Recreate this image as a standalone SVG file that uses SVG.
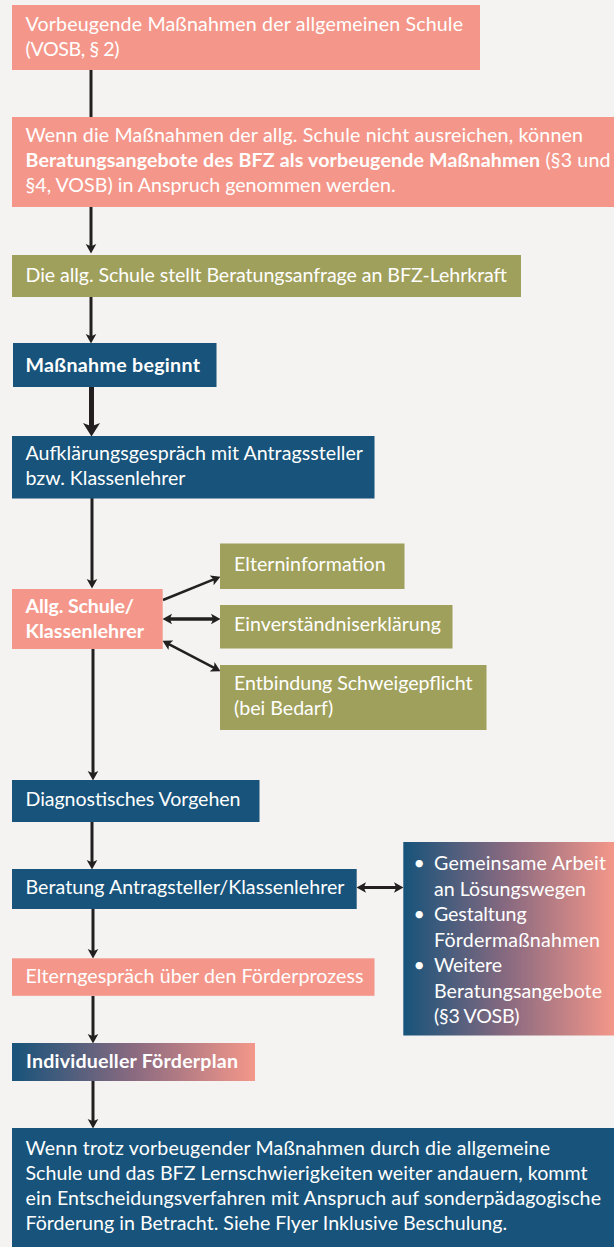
<svg xmlns="http://www.w3.org/2000/svg" width="614" height="1247" viewBox="0 0 614 1247">
<style>
.t{font-family:Lato,"Noto Sans","Liberation Sans",sans-serif;font-size:19.6px;fill:#ffffff}
.b{font-weight:bold}
.salmon{fill:#f4978a}
.olive{fill:#9fa05b}
.blue{fill:#17537a}
.grad{fill:url(#g)}
.ln{fill:none;stroke:#231f20;stroke-width:3}
</style>
<defs>
<linearGradient id="g" x1="0" y1="0" x2="1" y2="0">
<stop offset="0" stop-color="#17537a"/>
<stop offset="0.5" stop-color="#8a6a80"/>
<stop offset="1" stop-color="#f4978a"/>
</linearGradient>
<marker id="arr" viewBox="0 -6 10 12" markerWidth="10" markerHeight="12" markerUnits="userSpaceOnUse" refX="3" refY="0" orient="auto-start-reverse">
<path d="M0,-5.3 L9.5,0 L0,5.3 L2.2,0 z" fill="#231f20"/>
</marker>
<marker id="arrbig" viewBox="0 -9 14 18" markerWidth="14" markerHeight="18" markerUnits="userSpaceOnUse" refX="5" refY="0" orient="auto">
<path d="M0,-8.5 L13.5,0 L0,8.5 L3.2,0 z" fill="#231f20"/>
</marker>
</defs>
<rect width="614" height="1247" fill="#f4f3f1"/>

<g id="connectors">
<path class="ln" d="M91,70 V117"/>
<path class="ln" d="M91,207 V247" marker-end="url(#arr)"/>
<path class="ln" d="M91,297 V337" marker-end="url(#arr)"/>
<path class="ln" d="M91.5,387 V428" style="stroke-width:5" marker-end="url(#arrbig)"/>
<path class="ln" d="M92,498 V582" marker-end="url(#arr)"/>
<path class="ln" d="M93,649 V774" marker-end="url(#arr)"/>
<path class="ln" d="M92,822 V863" marker-end="url(#arr)"/>
<path class="ln" d="M93,909 V952" marker-end="url(#arr)"/>
<path class="ln" d="M93,996 V1037" marker-end="url(#arr)"/>
<path class="ln" d="M93,1081 V1122" marker-end="url(#arr)"/>
<path class="ln" d="M163,600 L214.4,579.2" style="stroke-width:2.5" marker-end="url(#arr)"/>
<path class="ln" d="M169,619 H214" style="stroke-width:3.5" marker-start="url(#arr)" marker-end="url(#arr)"/>
<path class="ln" d="M168.3,643.8 L214.7,668.2" style="stroke-width:2.5" marker-start="url(#arr)" marker-end="url(#arr)"/>
<path class="ln" d="M363,887.5 H397" marker-start="url(#arr)" marker-end="url(#arr)"/>
</g>

<g id="n1">
<rect class="salmon" x="12" y="5" width="468" height="65"/>
<text class="t" x="25.5" y="31" textLength="437.5" lengthAdjust="spacing">Vorbeugende Maßnahmen der allgemeinen Schule</text>
<text class="t" x="25.5" y="56" textLength="94" lengthAdjust="spacing">(VOSB, § 2)</text>
</g>

<g id="n2">
<rect class="salmon" x="12" y="117" width="602" height="90"/>
<text class="t" x="25.5" y="142" textLength="557.5" lengthAdjust="spacing">Wenn die Maßnahmen der allg. Schule nicht ausreichen, können</text>
<text class="t" x="25.5" y="167" textLength="585" lengthAdjust="spacing"><tspan class="b">Beratungsangebote des BFZ als vorbeugende Maßnahmen</tspan> (§3 und</text>
<text class="t" x="25.5" y="192" textLength="370" lengthAdjust="spacing">§4, VOSB) in Anspruch genommen werden.</text>
</g>

<g id="n3">
<rect class="olive" x="12" y="255" width="509" height="42"/>
<text class="t" x="25.5" y="281.5" textLength="481.5" lengthAdjust="spacing">Die allg. Schule stellt Beratungsanfrage an BFZ-Lehrkraft</text>
</g>

<g id="n4">
<rect class="blue" x="13" y="343" width="203.5" height="44"/>
<text class="t b" x="25.5" y="371.5" textLength="174.5" lengthAdjust="spacing">Maßnahme beginnt</text>
</g>

<g id="n5">
<rect class="blue" x="12" y="436" width="362.5" height="62.5"/>
<text class="t" x="25.5" y="460" textLength="337.5" lengthAdjust="spacing">Aufklärungsgespräch mit Antragssteller</text>
<text class="t" x="25.5" y="485">bzw. Klassenlehrer</text>
</g>

<g id="n6">
<rect class="salmon" x="12" y="589" width="150.7" height="60"/>
<text class="t b" x="25.5" y="613" textLength="108.5" lengthAdjust="spacing">Allg. Schule/</text>
<text class="t b" x="25.5" y="638" textLength="118.5" lengthAdjust="spacing">Klassenlehrer</text>
</g>

<g id="n7">
<rect class="olive" x="220" y="543.5" width="184.5" height="45.5"/>
<text class="t" x="234" y="570.5" textLength="151.7" lengthAdjust="spacing">Elterninformation</text>
</g>

<g id="n8">
<rect class="olive" x="220" y="605" width="232.5" height="43.5"/>
<text class="t" x="234" y="630.5" textLength="207" lengthAdjust="spacing">Einverständniserklärung</text>
</g>

<g id="n9">
<rect class="olive" x="220" y="665" width="266.5" height="65"/>
<text class="t" x="234" y="690" textLength="238.6" lengthAdjust="spacing">Entbindung Schweigepflicht</text>
<text class="t" x="234" y="715">(bei Bedarf)</text>
</g>

<g id="n10">
<rect class="blue" x="12" y="780" width="247.5" height="42"/>
<text class="t" x="25.5" y="806" textLength="215" lengthAdjust="spacing">Diagnostisches Vorgehen</text>
</g>

<g id="n11">
<rect class="blue" x="12" y="869" width="344.7" height="40"/>
<text class="t" x="25.5" y="893.5" textLength="319" lengthAdjust="spacing">Beratung Antragsteller/Klassenlehrer</text>
</g>

<g id="n12">
<rect class="grad" x="403.3" y="842" width="210.7" height="193.5"/>
<text class="t" x="413.5" y="870">•</text>
<text class="t" x="434" y="870" textLength="172" lengthAdjust="spacing">Gemeinsame Arbeit</text>
<text class="t" x="434" y="895.5" textLength="152" lengthAdjust="spacing">an Lösungswegen</text>
<text class="t" x="413.5" y="921">•</text>
<text class="t" x="434" y="921" textLength="92.6" lengthAdjust="spacing">Gestaltung</text>
<text class="t" x="434" y="946.5" textLength="166" lengthAdjust="spacing">Fördermaßnahmen</text>
<text class="t" x="413.5" y="972">•</text>
<text class="t" x="434" y="972" textLength="68" lengthAdjust="spacing">Weitere</text>
<text class="t" x="434" y="997.5" textLength="168" lengthAdjust="spacing">Beratungsangebote</text>
<text class="t" x="434" y="1023" textLength="85.6" lengthAdjust="spacing">(§3 VOSB)</text>
</g>

<g id="n13">
<rect class="salmon" x="12" y="958.3" width="362.5" height="37.5"/>
<text class="t" x="25.5" y="982.5" textLength="338" lengthAdjust="spacing">Elterngespräch über den Förderprozess</text>
</g>

<g id="n14">
<rect class="grad" x="12" y="1043" width="243" height="38"/>
<text class="t b" x="26" y="1068.3" textLength="212" lengthAdjust="spacing">Individueller Förderplan</text>
</g>

<g id="n15">
<rect class="blue" x="12" y="1128" width="602" height="119"/>
<text class="t" x="25.5" y="1155" textLength="524.5" lengthAdjust="spacing">Wenn trotz vorbeugender Maßnahmen durch die allgemeine</text>
<text class="t" x="25.5" y="1180" textLength="562" lengthAdjust="spacing">Schule und das BFZ Lernschwierigkeiten weiter andauern, kommt</text>
<text class="t" x="25.5" y="1205" textLength="575.5" lengthAdjust="spacing">ein Entscheidungsverfahren mit Anspruch auf sonderpädagogische</text>
<text class="t" x="25.5" y="1230" textLength="481.5" lengthAdjust="spacing">Förderung in Betracht. Siehe Flyer Inklusive Beschulung.</text>
</g>
</svg>
